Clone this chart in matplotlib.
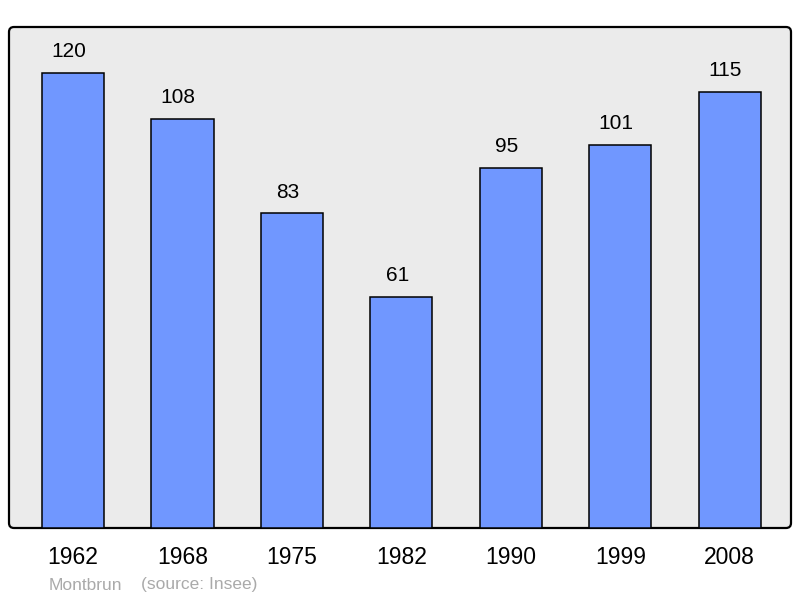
import matplotlib
matplotlib.use("Agg")
import matplotlib.pyplot as plt
from matplotlib.patches import FancyBboxPatch
from matplotlib.transforms import IdentityTransform

plt.rcParams['font.family'] = ['Liberation Sans', 'DejaVu Sans']

years = ['1962', '1968', '1975', '1982', '1990', '1999', '2008']
population = [120, 108, 83, 61, 95, 101, 115]
town = 'Montbrun'
source = '(source: Insee)'

W, H = 800, 598
fig = plt.figure(figsize=(W / 100, H / 100), dpi=100)

# plot area in pixels
left, right, top, bottom = 9, 791, 27, 528
ax = fig.add_axes([left / W, (H - bottom) / H, (right - left) / W, (bottom - top) / H])
ax.set_facecolor('none')
for s in ax.spines.values():
    s.set_visible(False)

# rounded frame drawn in pixel coordinates, behind the axes
frame = FancyBboxPatch((left, H - bottom), right - left, bottom - top,
                       boxstyle='round,pad=0,rounding_size=5',
                       facecolor='#ebebeb', edgecolor='black', linewidth=1.6,
                       transform=IdentityTransform(), zorder=-10)
fig.patches.append(frame)

x = list(range(len(years)))
ax.bar(x, population, width=0.567, color='#7097ff', edgecolor='black', linewidth=1.1, zorder=2)
for xi, v in zip(x, population):
    # labels sit a little left of the bar centre, like in the original
    ax.annotate(str(v), (xi, v), xytext=(-3, 8.5), textcoords='offset points',
                ha='center', va='bottom', fontsize=15, color='black')

ax.set_xlim(-0.585, 6.56)
ax.set_ylim(0, 132.2)
ax.set_yticks([])
ax.set_xticks(x)
ax.set_xticklabels(years, fontsize=16.5)
ax.tick_params(axis='x', length=0, pad=13)

fig.text(49 / W, 1 - 585 / H, town, fontsize=12.5, color='#aaaaaa', va='center', ha='left')
fig.text(141 / W, 1 - 585 / H, source, fontsize=12.5, color='#aaaaaa', va='center', ha='left')

fig.savefig('out.png', dpi=100)
